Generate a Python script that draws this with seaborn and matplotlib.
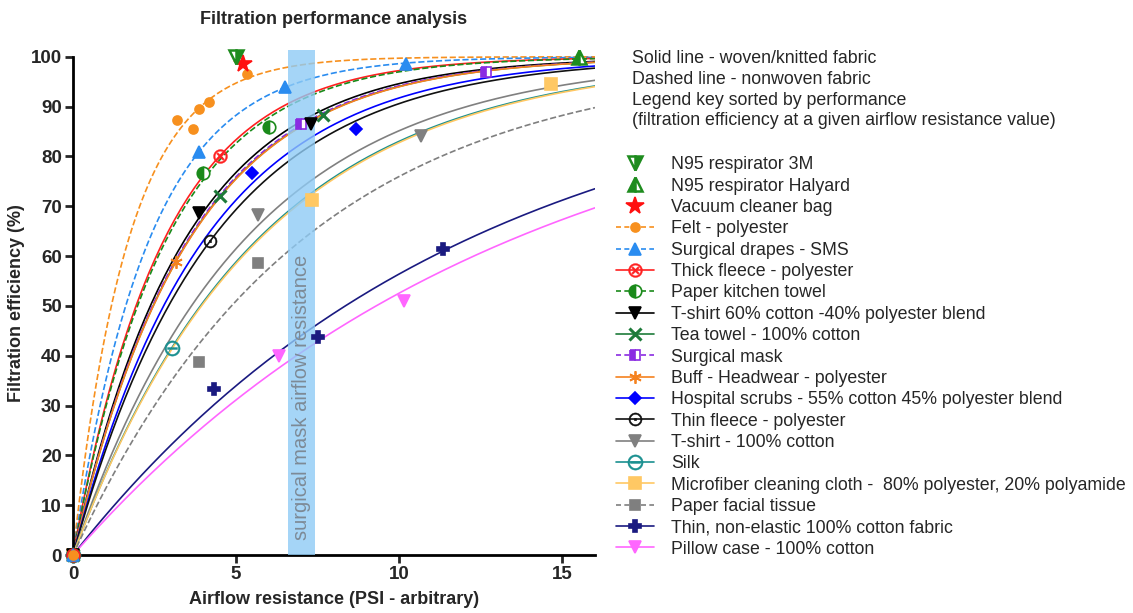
import numpy as np
import pandas as pd
import seaborn as sns
import matplotlib.pyplot as plt
from matplotlib.lines import Line2D

# Materiales en el orden de la leyenda
materials = [
    'N95 respirator 3M',
    'N95 respirator Halyard',
    'Vacuum cleaner bag',
    'Felt - polyester',
    'Surgical drapes - SMS',
    'Thick fleece - polyester',
    'Paper kitchen towel',
    'T-shirt 60% cotton -40% polyester blend',
    'Tea towel - 100% cotton',
    'Surgical mask',
    'Buff - Headwear - polyester',
    'Hospital scrubs - 55% cotton 45% polyester blend',
    'Thin fleece - polyester',
    'T-shirt - 100% cotton',
    'Silk',
    'Microfiber cleaning cloth -  80% polyester, 20% polyamide',
    'Paper facial tissue',
    'Thin, non-elastic 100% cotton fabric',
    'Pillow case - 100% cotton',
]

# Resistencia al flujo de aire (x) y eficiencia de filtracion (y) medidas
point_x = [
    [5.0],
    [15.5],
    [5.2],
    [0, 3.18, 3.69, 3.85, 4.18, 5.35],
    [0, 3.85, 6.5, 10.2],
    [0, 4.5],
    [0, 4.0, 6.0],
    [0, 3.85, 7.3],
    [0, 4.5, 7.66],
    [0, 7.0, 12.67],
    [0, 3.16],
    [0, 5.5, 8.68],
    [0, 4.2],
    [0, 5.68, 10.67],
    [0, 3.03],
    [0, 7.34, 14.66],
    [0, 3.85, 5.68],
    [0, 4.33, 7.5, 11.33],
    [0, 6.33, 10.16],
]
point_y = [
    [100.0],
    [100.0],
    [98.6],
    [0, 87.4, 85.6, 89.5, 90.9, 96.5],
    [0, 80.8, 93.9, 98.6],
    [0, 80.1],
    [0, 76.7, 86.0],
    [0, 68.7, 86.5],
    [0, 72.1, 88.3],
    [0, 86.5, 96.9],
    [0, 58.9],
    [0, 76.7, 85.6],
    [0, 63.0],
    [0, 68.2, 84.2],
    [0, 41.6],
    [0, 71.3, 94.6],
    [0, 38.7, 58.7],
    [0, 33.3, 43.8, 61.4],
    [0, 40.0, 51.0],
]
has_fit = [False, False, False] + [True] * 16
nonwoven = [False, False, False, True, True, False, True, False, False, True,
            False, False, False, False, False, False, True, False, False]

# Estilos
colors = ['#1E8C1E', '#1E8C1E', '#FF1010', '#F7901E', '#2A8CF0', '#FF2020',
          '#1A8A1A', '#000000', '#1E7B3A', '#8A2BE2', '#F5821F', '#0000FF',
          '#111111', '#808080', '#1A9090', '#FFC864', '#7F7F7F', '#1A1A80',
          '#FF66FF']
markers = ['v', '^', '*', 'o', '^', r'$\otimes$', 'o', 'v', 'x', 's', (6, 2, 0),
           'D', r'$\odot$', 'v', r'$\ominus$', 's', 's', 'P', 'v']
fills = ['right', 'left', 'full', 'full', 'full', 'full', 'left', 'full', 'full',
         'left', 'full', 'full', 'full', 'full', 'full', 'full', 'full', 'full', 'full']
msizes = [10, 10, 13, 6.5, 8, 10, 9, 8, 9, 7.5, 9, 6.5, 9.5, 8, 11, 8, 7.5, 8, 8]
edge_w = [1.8, 1.8, 1.2, 1.2, 1.2, 0.3, 1.2, 1.2, 2.2, 1.2, 1.3, 1.2, 0.3, 1.2,
          0.3, 1.2, 1.2, 1.2, 1.2]


def fit_rate(xs, ys):
    # ajuste exponencial de una fase: y = 100 * (1 - exp(-k x))
    ks = np.linspace(0.01, 1.5, 3000)
    pred = 100 * (1 - np.exp(-np.outer(ks, np.asarray(xs))))
    sse = ((pred - np.asarray(ys)) ** 2).sum(axis=1)
    return ks[sse.argmin()]


sns.set_style('white')
plt.rcParams['font.family'] = ['Liberation Sans', 'DejaVu Sans']

fig = plt.figure(figsize=(11.33, 6.13), dpi=100)
ax = fig.add_axes([0.0644, 0.0946, 0.4607, 0.8233])

xx = np.linspace(0, 16, 160)
handles = []
styles = []
for i, name in enumerate(materials):
    ls = '--' if nonwoven[i] else '-'
    if has_fit[i]:
        k = fit_rate(point_x[i], point_y[i])
        curve = pd.DataFrame({'x': xx, 'y': 100 * (1 - np.exp(-k * xx))})
        sns.lineplot(data=curve, x='x', y='y', ax=ax, color=colors[i], lw=1.2,
                     linestyle=ls, dashes=(4, 2) if nonwoven[i] else '',
                     estimator=None, sort=False)
    mk = dict(marker=markers[i], markersize=msizes[i], fillstyle=fills[i],
              markerfacecolor=colors[i], markeredgecolor=colors[i],
              markerfacecoloralt='white', markeredgewidth=edge_w[i])
    styles.append(mk)
    handles.append(Line2D([], [], color=colors[i], lw=1.2 if has_fit[i] else 0,
                          linestyle=(ls if has_fit[i] else 'none'),
                          dashes=(3, 2) if nonwoven[i] else (None, None), **mk))

# puntos medidos (en orden inverso para que el fieltro quede encima en el origen)
for i in reversed(range(len(materials))):
    pts = pd.DataFrame({'x': point_x[i], 'y': point_y[i]})
    sns.lineplot(data=pts, x='x', y='y', ax=ax, linestyle='none', estimator=None,
                 sort=False, clip_on=False, zorder=4, **styles[i])

# Banda de resistencia de la mascarilla quirurgica
ax.axvspan(6.6, 7.42, color='#8FCBF5', alpha=0.8, zorder=3, lw=0)
ax.text(7.0, 3, 'surgical mask airflow resistance', rotation=90, ha='center',
        va='bottom', fontsize=14.5, color='#7D8A96', zorder=5)

ax.set_xlim(0, 16)
ax.set_ylim(0, 101.3)
ax.set_xticks([0, 5, 10, 15])
ax.set_yticks(range(0, 101, 10))
ax.spines['left'].set_bounds(0, 100)
for s in ['top', 'right']:
    ax.spines[s].set_visible(False)
for s in ['left', 'bottom']:
    ax.spines[s].set_linewidth(2)
    ax.spines[s].set_color('black')
ax.tick_params(axis='both', direction='out', length=6, width=2, labelsize=13.5,
               left=True, bottom=True, pad=2)
for lab in ax.get_xticklabels() + ax.get_yticklabels():
    lab.set_fontweight('bold')
ax.set_xlabel('Airflow resistance (PSI - arbitrary)', fontsize=13, fontweight='bold', labelpad=6)
ax.set_ylabel('Filtration efficiency (%)', fontsize=13, fontweight='bold', labelpad=4)
ax.set_title('Filtration performance analysis', fontsize=13, fontweight='bold', pad=19)

fig.text(0.558, 0.918,
         'Solid line - woven/knitted fabric\nDashed line - nonwoven fabric\n'
         'Legend key sorted by performance\n'
         '(filtration efficiency at a given airflow resistance value)',
         fontsize=12.8, va='top', ha='left', linespacing=1.28)

fig.legend(handles=handles, labels=materials, loc='upper left',
           bbox_to_anchor=(0.544, 0.745), frameon=False, fontsize=12.8,
           handlelength=2.1, handletextpad=1.0, labelspacing=0.245,
           borderaxespad=0, borderpad=0)

fig.savefig('out.png', dpi=100)
